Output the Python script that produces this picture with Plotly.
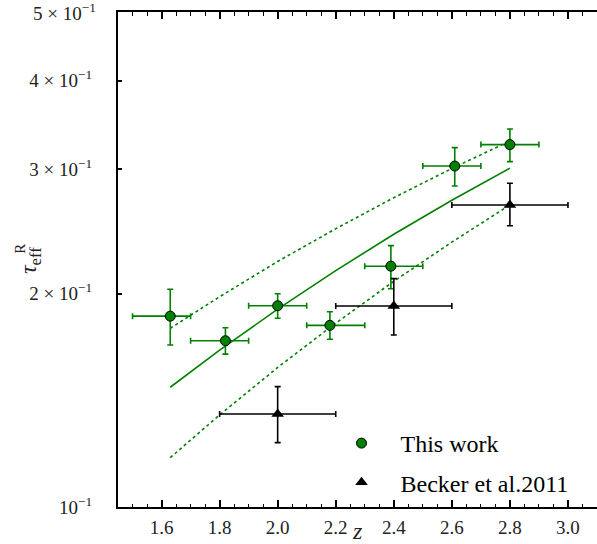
import plotly.graph_objects as go

# This work (green circles)
z_tw = [1.63, 1.82, 2.00, 2.18, 2.39, 2.61, 2.80]
tau_tw = [0.186, 0.1717, 0.1924, 0.1805, 0.2188, 0.303, 0.3249]
tau_tw_hi = [0.2030, 0.1791, 0.2000, 0.1887, 0.2339, 0.3217, 0.3418]
tau_tw_lo = [0.1693, 0.1644, 0.1847, 0.1725, 0.2033, 0.2840, 0.3074]
z_tw_lo = [1.5, 1.7, 1.9, 2.1, 2.3, 2.5, 2.7]
z_tw_hi = [1.7, 1.9, 2.1, 2.3, 2.5, 2.7, 2.9]

# Becker et al. 2011 (black triangles)
z_b = [2.0, 2.4, 2.8]
tau_b = [0.1353, 0.1922, 0.267]
tau_b_hi = [0.1479, 0.2101, 0.2865]
tau_b_lo = [0.1233, 0.1749, 0.2496]
z_b_lo = [1.8, 2.2, 2.6]
z_b_hi = [2.2, 2.6, 3.0]

# Fit curves
z_fit = [1.63, 1.8, 2.0, 2.2, 2.4, 2.6, 2.8]
tau_fit = [0.1476, 0.1665, 0.1903, 0.2157, 0.2427, 0.2711, 0.301]
tau_fit_up = [0.1788, 0.1981, 0.2222, 0.2471, 0.2734, 0.3006, 0.3287]
tau_fit_dn = [0.1174, 0.1349, 0.1574, 0.1818, 0.2083, 0.2366, 0.267]

y_tickvals = [0.1, 0.2, 0.3, 0.4, 0.5]
y_ticktext = ["10<sup>−1</sup>", "2 × 10<sup>−1</sup>", "3 × 10<sup>−1</sup>",
              "4 × 10<sup>−1</sup>", ""]
y_top_label = "5 × 10<sup>−1</sup>"
x_tickvals = [1.6, 1.8, 2.0, 2.2, 2.4, 2.6, 2.8, 3.0]
x_ticktext = ["1.6", "1.8", "2.0", "2.2", "2.4", "2.6", "2.8", "3.0"]

GREEN = "#008000"
FONT = "Liberation Serif"
TXT = "#222222"

fig = go.Figure()

for ys, dash in [(tau_fit_up, "dot"), (tau_fit_dn, "dot"), (tau_fit, "solid")]:
    fig.add_trace(go.Scatter(x=z_fit, y=ys, mode="lines",
                             line=dict(color=GREEN, width=1.6, dash=dash),
                             showlegend=False, hoverinfo="skip"))

fig.add_trace(go.Scatter(
    x=z_tw, y=tau_tw, mode="markers", name="This work", legendgroup="a",
    marker=dict(symbol="circle", size=10, color=GREEN, line=dict(color="black", width=1)),
    error_y=dict(type="data", symmetric=False,
                 array=[h - t for h, t in zip(tau_tw_hi, tau_tw)],
                 arrayminus=[t - l for l, t in zip(tau_tw_lo, tau_tw)],
                 color=GREEN, thickness=1.6, width=3),
    error_x=dict(type="data", symmetric=False,
                 array=[h - z for h, z in zip(z_tw_hi, z_tw)],
                 arrayminus=[z - l for l, z in zip(z_tw_lo, z_tw)],
                 color=GREEN, thickness=1.6, width=3),
))

fig.add_trace(go.Scatter(
    x=z_b, y=tau_b, mode="markers", name="Becker et al.2011", legendgroup="b",
    marker=dict(symbol="triangle-up", size=11, color="black"),
    error_y=dict(type="data", symmetric=False,
                 array=[h - t for h, t in zip(tau_b_hi, tau_b)],
                 arrayminus=[t - l for l, t in zip(tau_b_lo, tau_b)],
                 color="black", thickness=1.6, width=3),
    error_x=dict(type="data", symmetric=False,
                 array=[h - z for h, z in zip(z_b_hi, z_b)],
                 arrayminus=[z - l for l, z in zip(z_b_lo, z_b)],
                 color="black", thickness=1.6, width=3),
))

fig.update_layout(
    width=597, height=544,
    margin=dict(l=118, r=0, t=12, b=37, autoexpand=False),
    plot_bgcolor="white", paper_bgcolor="white",
    font=dict(family=FONT, color=TXT, size=19),
    legend=dict(x=0.427, y=0.004, xanchor="left", yanchor="bottom",
                bgcolor="rgba(0,0,0,0)", font=dict(size=24, color="black"),
                tracegroupgap=5, itemwidth=68),
    annotations=[
        dict(text="<i>z</i>", x=0.5, y=-0.048, xref="paper", yref="paper",
             xanchor="center", yanchor="middle", showarrow=False,
             font=dict(size=24, family=FONT, color=TXT)),
        dict(text="<i>τ</i><sub>eff</sub>", x=-0.1837, y=0.497,
             xref="paper", yref="paper", textangle=-90,
             xanchor="center", yanchor="middle", showarrow=False,
             font=dict(size=24, family=FONT, color=TXT)),
        dict(text="R", x=-0.2045, y=0.522,
             xref="paper", yref="paper", textangle=-90,
             xanchor="center", yanchor="middle", showarrow=False,
             font=dict(size=15, family=FONT, color=TXT)),
        dict(text=y_top_label, x=-0.0418, y=1.0, xref="paper", yref="y domain",
             xanchor="right", yanchor="middle", showarrow=False,
             font=dict(size=19, family=FONT, color=TXT)),
    ],
)

fig.update_xaxes(
    range=[1.45, 3.1], tickmode="array", automargin=False,
    tickvals=x_tickvals, ticktext=x_ticktext,
    ticks="inside", ticklen=7, tickwidth=1.5, tickcolor="black",
    showline=True, linecolor="black", linewidth=2, mirror="ticks",
    showgrid=False, zeroline=False, ticklabelstandoff=2,
    minor=dict(dtick=0.05, tick0=1.45, ticks="inside", ticklen=3.5,
               tickwidth=1, tickcolor="black", showgrid=False),
)

fig.update_yaxes(
    type="log", range=[-1, -0.30103], tickmode="array", automargin=False,
    tickvals=y_tickvals, ticktext=y_ticktext,
    ticks="inside", ticklen=4, tickwidth=1.5, tickcolor="black",
    showline=True, linecolor="black", linewidth=2,
    showgrid=False, zeroline=False, ticklabelstandoff=20,
)

fig.write_html("out.html", post_script="document.body.style.margin='0';",
               config={"displayModeBar": False})
